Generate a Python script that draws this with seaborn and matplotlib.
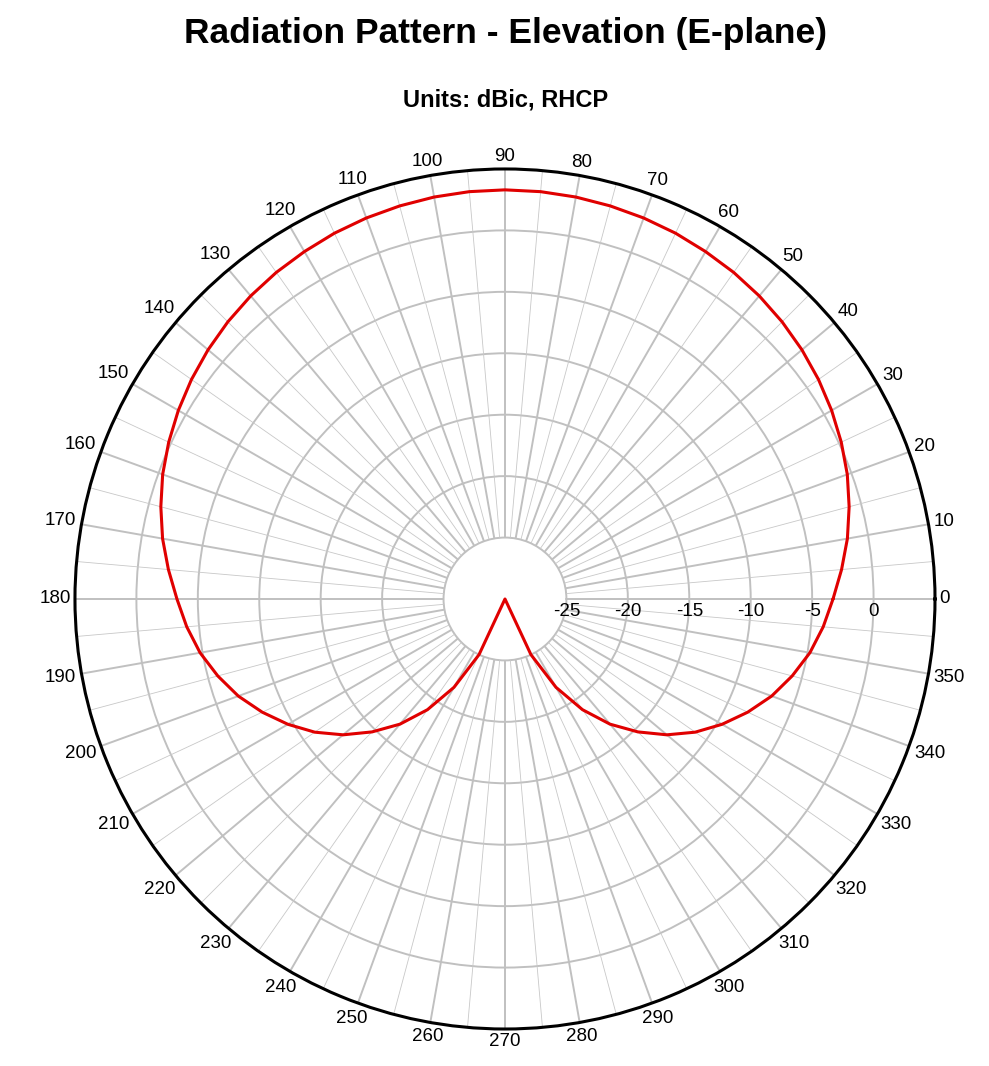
import numpy as np
import pandas as pd
import matplotlib.pyplot as plt
import seaborn as sns

# elevation angle (deg) and gain (dBic), 5 deg steps
angle_deg = list(range(0, 365, 5))
gain_dbic = [-3.3, -2.5, -1.7, -1.0, -0.35, 0.2, 0.7, 1.15, 1.55, 1.9,
             2.2, 2.45, 2.65, 2.85, 3.0, 3.12, 3.22, 3.28, 3.3, 3.28,
             3.22, 3.12, 3.0, 2.85, 2.65, 2.45, 2.2, 1.9, 1.55, 1.15,
             0.7, 0.2, -0.35, -1.0, -1.7, -2.5, -3.3, -4.0, -4.8, -5.8,
             -6.9, -8.2, -9.6, -11.1, -12.8, -14.7, -16.7, -19.0, -21.7, -25.0,
             -30, -30, -30, -30, -30, -30, -30, -30, -30, -25.0,
             -21.7, -19.0, -16.7, -14.7, -12.8, -11.1, -9.6, -8.2, -6.9, -5.8,
             -4.8, -4.0, -3.3]

ring_ticks = [-25, -20, -15, -10, -5, 0]
angle_labels = list(range(0, 360, 10))
major_spokes = list(range(0, 360, 10))
minor_spokes = list(range(5, 360, 10))

sns.set_style("white")
plt.rcParams['font.family'] = ['Liberation Sans', 'DejaVu Sans']
plt.rcParams['text.color'] = 'black'

df = pd.DataFrame({'theta': np.deg2rad(angle_deg), 'gain': gain_dbic})

fig = plt.figure(figsize=(9.89, 10.66), dpi=100)
ax = fig.add_axes([0.0758, 0.0347, 0.8696, 0.8068], projection='polar')

# grid: rings from the y axis, spokes drawn from the -25 ring outwards
ax.set_xticks([])
ax.xaxis.grid(False)
ax.set_yticks(ring_ticks)
ax.set_yticklabels([])
ax.yaxis.grid(True, color='#c0c0c0', lw=1.4)
ax.tick_params(axis='y', length=0)
ax.vlines(np.deg2rad(major_spokes), -25, 5, colors='#c0c0c0', lw=1.4, zorder=1)
ax.vlines(np.deg2rad(minor_spokes), -25, 5, colors='#c8c8c8', lw=0.6, zorder=1)

sns.lineplot(data=df, x='theta', y='gain', ax=ax, color='#e00000', lw=2.2,
             sort=False, estimator=None, zorder=3, solid_joinstyle='round')
ax.set_ylim(-30, 5)
ax.set_xlabel('')
ax.set_ylabel('')
ax.spines['polar'].set_color('black')
ax.spines['polar'].set_linewidth(2.2)

for v in ring_ticks:
    ax.annotate(f"{v}", xy=(0, v), xytext=(0, -3), textcoords='offset points',
                ha='center', va='top', fontsize=13.5, color='black')

# angle labels hug the outer ring
for a in angle_labels:
    c, s = np.cos(np.deg2rad(a)), np.sin(np.deg2rad(a))
    half_w = 5.2 * len(str(a))
    half_h = 7.5
    d = 4.5 + abs(c) * half_w + abs(s) * half_h
    ax.annotate(f"{a}", xy=(np.deg2rad(a), 5), xytext=(c * d * 0.72, s * d * 0.72),
                textcoords='offset points', ha='center', va='center',
                fontsize=13.5, color='black', annotation_clip=False)

fig.text(0.511, 1 - 34 / 1066, 'Radiation Pattern - Elevation (E-plane)',
         ha='center', va='center', fontsize=25.5, fontweight='bold', color='black')
fig.text(0.511, 1 - 100 / 1066, 'Units: dBic, RHCP',
         ha='center', va='center', fontsize=17, fontweight='bold', color='black')

fig.savefig('out.png', dpi=100)
